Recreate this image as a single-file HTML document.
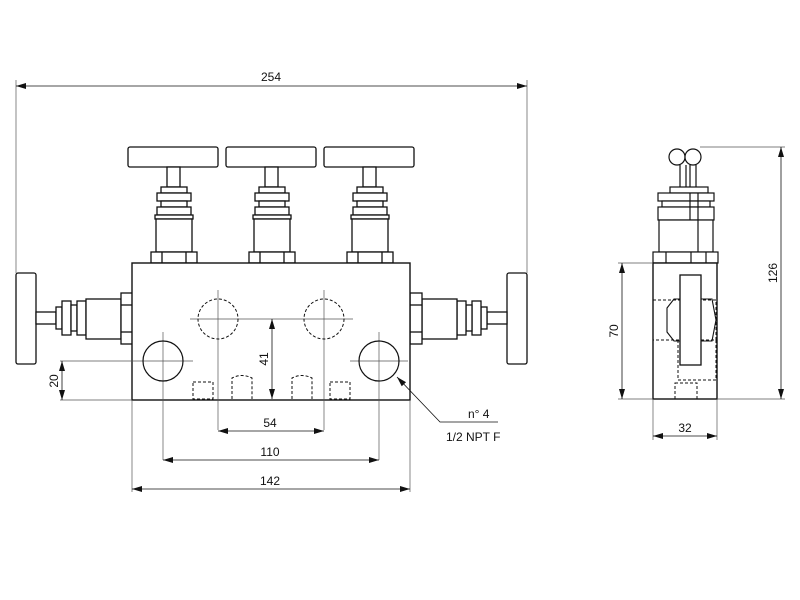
<!DOCTYPE html>
<html><head><style>body{margin:0;background:#fff}svg{display:block}text{font-family:"Liberation Sans",sans-serif;font-size:12px;fill:#111}</style></head>
<body>
<svg width="800" height="600" viewBox="0 0 800 600" xmlns="http://www.w3.org/2000/svg">
<defs>
<marker id="a" viewBox="0 0 10 6" refX="10" refY="3" markerWidth="10" markerHeight="6" orient="auto-start-reverse" markerUnits="userSpaceOnUse"><path d="M0,0L10,3L0,6z" fill="#111"/></marker>
<g id="tv" fill="#fff" stroke="#111" stroke-width="1.3">
<rect x="-42" y="0" width="90" height="20" rx="2"/>
<rect x="-3" y="20" width="13" height="20"/>
<rect x="-9" y="40" width="26" height="6"/>
<rect x="-13" y="46" width="34" height="8"/>
<rect x="-9" y="54" width="26" height="6"/>
<rect x="-13" y="60" width="34" height="8"/>
<rect x="-15" y="68" width="38" height="4"/>
<rect x="-14" y="72" width="36" height="33"/>
<rect x="-19" y="105" width="46" height="11"/>
<line x1="-8" y1="105" x2="-8" y2="116"/><line x1="16" y1="105" x2="16" y2="116"/>
</g>
<g id="sv" fill="#fff" stroke="#111" stroke-width="1.3">
<rect x="0" y="0" width="20" height="91" rx="2"/>
<rect x="20" y="39" width="20" height="12"/>
<rect x="40" y="34" width="6" height="22"/>
<rect x="46" y="28" width="9" height="34"/>
<rect x="55" y="32" width="6" height="26"/>
<rect x="61" y="28" width="9" height="34"/>
<rect x="70" y="26" width="35" height="40"/>
<rect x="105" y="20" width="12" height="51"/>
<line x1="105" y1="32" x2="117" y2="32"/><line x1="105" y1="59" x2="117" y2="59"/>
</g>
</defs>
<g stroke="#111" fill="none" stroke-width="1">
<!-- top valves -->
<use href="#tv" x="170" y="147"/>
<use href="#tv" x="268" y="147"/>
<use href="#tv" x="366" y="147"/>
<!-- side valves -->
<use href="#sv" x="16" y="273"/>
<use href="#sv" transform="translate(527,273) scale(-1,1)"/>
<!-- block -->
<rect x="132" y="263" width="278" height="137" fill="#fff" stroke-width="1.4"/>
<!-- centre lines -->
<g stroke="#555" stroke-width="0.7">
<line x1="218" y1="290" x2="218" y2="430"/><line x1="324" y1="290" x2="324" y2="430"/>
<line x1="190" y1="319" x2="353" y2="319"/>
<line x1="163" y1="332" x2="163" y2="460"/><line x1="379" y1="332" x2="379" y2="460"/>
<line x1="60" y1="361" x2="193" y2="361"/><line x1="350" y1="361" x2="408" y2="361"/>
<line x1="60" y1="400" x2="132" y2="400"/>
<line x1="132" y1="400" x2="132" y2="492"/><line x1="410" y1="400" x2="410" y2="492"/>
<line x1="16" y1="80" x2="16" y2="273"/><line x1="527" y1="80" x2="527" y2="273"/>
</g>
<circle cx="218" cy="319" r="20" stroke-dasharray="3,2"/>
<circle cx="324" cy="319" r="20" stroke-dasharray="3,2"/>
<circle cx="163" cy="361" r="20" stroke-width="1.2"/>
<circle cx="379" cy="361" r="20" stroke-width="1.2"/>
<g stroke-dasharray="3,2">
<rect x="193" y="382" width="20" height="17"/>
<path d="M232,399V378q10,-5 20,0V399"/>
<path d="M292,399V378q10,-5 20,0V399"/>
<rect x="330" y="382" width="20" height="17"/>
</g>
<!-- dims -->
<line x1="16" y1="86" x2="527" y2="86" marker-start="url(#a)" marker-end="url(#a)" stroke-width="0.8"/>
<line x1="272" y1="319" x2="272" y2="399" marker-start="url(#a)" marker-end="url(#a)" stroke-width="0.8"/>
<line x1="218" y1="431" x2="324" y2="431" marker-start="url(#a)" marker-end="url(#a)" stroke-width="0.8"/>
<line x1="163" y1="460" x2="379" y2="460" marker-start="url(#a)" marker-end="url(#a)" stroke-width="0.8"/>
<line x1="132" y1="489" x2="410" y2="489" marker-start="url(#a)" marker-end="url(#a)" stroke-width="0.8"/>
<line x1="62" y1="361" x2="62" y2="400" marker-start="url(#a)" marker-end="url(#a)" stroke-width="0.8"/>
<path d="M397,377L440,422H498" stroke-width="0.8" marker-start="url(#a)"/>
<!-- side view -->
<g fill="#fff" stroke-width="1.2">
<line x1="680" y1="165" x2="680" y2="187"/><line x1="686" y1="165" x2="686" y2="187"/>
<line x1="690" y1="165" x2="690" y2="187"/><line x1="696" y1="165" x2="696" y2="187"/>
<circle cx="677" cy="157" r="8"/><circle cx="693" cy="157" r="8"/>
<rect x="670" y="187" width="38" height="6"/>
<rect x="658" y="193" width="56" height="8"/>
<rect x="662" y="201" width="48" height="6"/>
<rect x="658" y="207" width="56" height="13"/>
<rect x="659" y="220" width="54" height="32"/>
<line x1="698" y1="193" x2="698" y2="252"/><line x1="690" y1="193" x2="690" y2="220"/>
<rect x="653" y="252" width="65" height="11"/>
<line x1="666" y1="252" x2="666" y2="263"/><line x1="691" y1="252" x2="691" y2="263"/><line x1="706" y1="252" x2="706" y2="263"/>
<rect x="653" y="263" width="64" height="136" stroke-width="1.4"/>
</g>
<g stroke-dasharray="3,2">
<path d="M653,300H716V340H653"/>
<path d="M678,340V380H716V340"/>
<rect x="675" y="383" width="22" height="16"/>
</g>
<path d="M667,308L674,299H712L716,320L712,341H674L667,332Z" stroke-width="1.1"/>
<rect x="680" y="275" width="21" height="90" fill="#fff" stroke-width="1.3"/>
<g stroke="#555" stroke-width="0.7">
<line x1="700" y1="147" x2="785" y2="147"/><line x1="717" y1="399" x2="785" y2="399"/>
<line x1="618" y1="263" x2="653" y2="263"/><line x1="618" y1="399" x2="653" y2="399"/>
<line x1="653" y1="399" x2="653" y2="440"/><line x1="717" y1="399" x2="717" y2="440"/>
</g>
<line x1="781" y1="147" x2="781" y2="399" marker-start="url(#a)" marker-end="url(#a)" stroke-width="0.8"/>
<line x1="622" y1="263" x2="622" y2="399" marker-start="url(#a)" marker-end="url(#a)" stroke-width="0.8"/>
<line x1="653" y1="436" x2="717" y2="436" marker-start="url(#a)" marker-end="url(#a)" stroke-width="0.8"/>
</g>
<text x="271" y="81" text-anchor="middle">254</text>
<text x="270" y="427" text-anchor="middle">54</text>
<text x="270" y="456" text-anchor="middle">110</text>
<text x="270" y="485" text-anchor="middle">142</text>
<text x="685" y="432" text-anchor="middle">32</text>
<text transform="translate(268,359) rotate(-90)" text-anchor="middle">41</text>
<text transform="translate(58,381) rotate(-90)" text-anchor="middle">20</text>
<text transform="translate(618,331) rotate(-90)" text-anchor="middle">70</text>
<text transform="translate(777,273) rotate(-90)" text-anchor="middle">126</text>
<text x="468" y="418">n° 4</text>
<text x="446" y="441">1/2 NPT F</text>
</svg>
</body></html>
